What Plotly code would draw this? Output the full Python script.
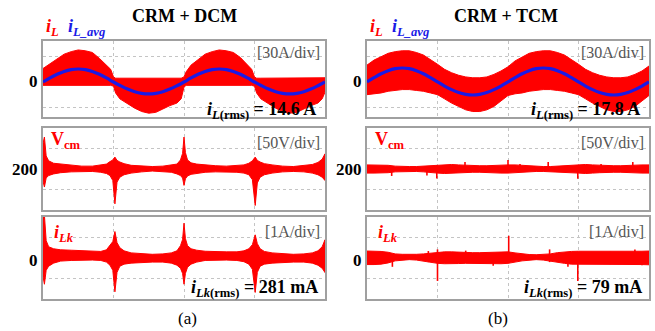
import plotly.graph_objects as go

W, H = 655, 331
RED = "#ff0000"
BLUE = "#1a1ae6"
SERIF = "Liberation Serif, Times New Roman, serif"

# ---------------- (a) CRM + DCM ----------------
# inductor current envelope [A], time in ms (10 ms/div)
t_il_a = [0, 1, 2, 3, 4, 5, 6, 7, 8, 9, 9.6, 10.0, 10.3, 10.9, 12, 13, 14, 15, 16, 17, 18, 19,
          19.6, 20.0, 20.3, 21, 22, 23, 24, 25, 26, 27, 28, 29, 29.6, 30.0, 30.3, 30.9,
          32, 33, 34, 35, 36, 37, 38, 39, 39.6, 40]
il_a_upper = [16, 22, 28, 33, 36, 38, 37, 35, 28, 20, 15, 6, 4.5, 4.5, 4.5, 4.5, 4.5, 4.5, 4.5, 4.5, 4.5, 4.5,
              4.5, 6, 12, 20, 27, 33, 36, 38, 37, 35, 29, 21, 15, 6, 4.5, 4.5,
              4.5, 4.5, 4.5, 4.5, 4.5, 4.5, 4.5, 4.5, 4.5, 5]
il_a_lower = [-4, -4, -4, -4, -4, -4, -4, -4, -4, -4, -4, -5, -13, -20, -26, -31, -35, -37, -36, -32, -28, -25,
              -20, -6, -4, -4, -4, -4, -4, -4, -4, -4, -4, -4, -4, -5, -13, -20,
              -26, -31, -35, -37, -36, -32, -28, -25, -20, -12]

t_avg = list(range(41))
il_a_avg = [0, 4.8, 9.1, 12.5, 14.7, 15.4, 14.7, 12.5, 9.1, 4.8, 0, -4.4, -8.4, -11.5, -13.5, -14.2,
            -13.5, -11.5, -8.4, -4.4, 0, 4.8, 9.1, 12.5, 14.7, 15.4, 14.7, 12.5, 9.1, 4.8, 0, -4.4,
            -8.4, -11.5, -13.5, -14.2, -13.5, -11.5, -8.4, -4.4, 0]

# common-mode voltage envelope [V]
t_cm_a = [0, 0.2, 0.45, 0.8, 1.5, 2.5, 4, 5.5, 7, 8.2, 9.0, 9.5, 9.9, 10.2, 10.5, 10.9, 11.5, 12.5, 14,
          15.5, 17, 18.2, 19.0, 19.5, 19.8, 20.0, 20.2, 20.5, 21.0, 21.8, 23, 24.5, 26, 27.5, 28.5,
          29.2, 29.7, 30.1, 30.4, 30.8, 31.4, 32.5, 34, 35.5, 37, 38.2, 39.0, 39.6, 40]
vcm_a_upper = [262, 278, 232, 220, 214, 212, 210, 207, 207, 209, 212, 218, 222, 229, 221, 217, 213, 209, 207,
               206, 207, 209, 212, 222, 238, 278, 240, 222, 215, 212, 210, 208, 207, 208, 210,
               214, 220, 229, 221, 217, 213, 210, 207, 206, 208, 211, 216, 224, 237]
vcm_a_lower = [170, 156, 178, 184, 188, 191, 193, 194, 194, 192, 189, 184, 172, 115, 168, 180, 186, 190, 193,
               195, 194, 192, 188, 184, 178, 160, 176, 183, 187, 190, 192, 193, 193, 192, 190,
               186, 174, 111, 166, 180, 186, 190, 193, 194, 193, 190, 186, 180, 172]

# leakage current envelope [A] (same time grid)
ilk_a_upper = [2.1, 2.1, 0.85, 0.55, 0.45, 0.4, 0.38, 0.36, 0.33, 0.32, 0.4, 0.6, 0.8, 1.29, 0.75, 0.5, 0.35, 0.25, 0.2,
               0.18, 0.2, 0.25, 0.35, 0.6, 0.9, 1.70, 0.95, 0.6, 0.45, 0.38, 0.33, 0.3, 0.3, 0.3, 0.35,
               0.45, 0.65, 1.13, 0.7, 0.45, 0.32, 0.25, 0.2, 0.18, 0.2, 0.25, 0.35, 0.55, 0.89]
ilk_a_lower = [-0.9, -1.28, -0.6, -0.4, -0.25, -0.15, -0.12, -0.1, -0.1, -0.12, -0.2, -0.35, -0.6, -1.65, -0.7, -0.4,
               -0.3, -0.25, -0.22, -0.2, -0.2, -0.25, -0.35, -0.5, -0.75, -1.28, -0.75, -0.45, -0.3, -0.2,
               -0.12, -0.1, -0.1, -0.12, -0.18, -0.3, -0.55, -1.68, -0.7, -0.4, -0.3, -0.25, -0.22, -0.2,
               -0.2, -0.25, -0.35, -0.5, -0.71]

# ---------------- (b) CRM + TCM ----------------
t_b = list(range(41))
il_b_upper = [20, 26, 30, 34, 36, 37, 37, 35, 32, 27, 21, 15, 11, 8, 6, 5, 5, 6, 9, 13, 18,
              25, 30, 34, 36, 37, 37, 35, 32, 27, 21, 15, 11, 8, 6, 5, 5, 6, 9, 13, 19]
il_b_lower = [-15, -14, -13, -11, -10, -9, -9, -10, -11, -13, -15, -20, -25, -29, -33, -35, -35, -33, -29, -23, -16,
              -14, -13, -11, -10, -9, -9, -10, -11, -13, -15, -20, -25, -29, -33, -35, -35, -33, -29, -23, -16]
il_b_avg = [0, 5.1, 9.8, 13.4, 15.8, 16.6, 15.8, 13.4, 9.8, 5.1, 0, -4.8, -9.1, -12.5, -14.6, -15.4,
            -14.6, -12.5, -9.1, -4.8, 0, 5.1, 9.8, 13.4, 15.8, 16.6, 15.8, 13.4, 9.8, 5.1, 0, -4.8,
            -9.1, -12.5, -14.6, -15.4, -14.6, -12.5, -9.1, -4.8, 0]

vcm_b_upper = [210, 210, 210, 209, 207, 206, 206, 206, 207, 208, 210, 211, 211, 210, 209, 208, 208, 208, 209, 210,
               210, 210, 209, 207, 206, 206, 206, 207, 208, 209, 210, 211, 210, 209, 208, 208, 208, 209, 209,
               210, 210]
vcm_b_lower = [190, 190, 190, 191, 193, 194, 194, 194, 193, 192, 190, 189, 189, 190, 191, 192, 192, 192, 191, 190,
               190, 190, 191, 193, 194, 194, 194, 193, 192, 191, 190, 189, 190, 191, 192, 192, 192, 191, 191,
               190, 190]
vcm_b_spike_t = [3.5, 8.5, 9.9, 13.9, 20.0, 21.7, 25.7, 29.9, 33.2, 37.7]
vcm_b_spike_hi = [205, 206, 210, 217, 222, 212, 217, 206, 212, 217]
vcm_b_spike_lo = [183, 184, 177, 195, 195, 194, 195, 176, 194, 195]

ilk_b_upper = [0.34, 0.34, 0.32, 0.28, 0.2, 0.18, 0.17, 0.18, 0.2, 0.24, 0.28, 0.3, 0.3, 0.28, 0.27, 0.26, 0.26,
               0.27, 0.28, 0.3, 0.3, 0.25, 0.2, 0.17, 0.16, 0.17, 0.2, 0.26, 0.3, 0.32, 0.33, 0.33, 0.32, 0.31,
               0.3, 0.3, 0.3, 0.31, 0.32, 0.33, 0.34]
ilk_b_lower = [-0.32, -0.32, -0.3, -0.24, -0.14, -0.1, -0.08, -0.1, -0.14, -0.2, -0.26, -0.28, -0.28, -0.27,
               -0.26, -0.25, -0.25, -0.26, -0.27, -0.28, -0.26, -0.2, -0.14, -0.1, -0.08, -0.1, -0.14, -0.2,
               -0.26, -0.3, -0.32, -0.32, -0.31, -0.3, -0.3, -0.3, -0.3, -0.31, -0.32, -0.32, -0.33]
ilk_b_spike_t = [3.6, 8.7, 10.0, 14.0, 17.9, 20.1, 25.9, 28.5, 29.9, 34.5, 38.0, 39.0]
ilk_b_spike_hi = [0.2, 0.34, 0.42, 0.36, 0.2, 1.08, 0.42, 0.2, 0.3, 0.3, 0.42, 0.2]
ilk_b_spike_lo = [-0.43, -0.2, -1.12, -0.2, -0.38, -0.25, -0.2, -0.43, -1.12, -0.3, -0.2, -0.35]

rms_labels = ["14.6 A", "281 mA", "17.8 A", "79 mA"]

# ---------------- figure ----------------
fig = go.Figure()


def band(t, up, lo, xa, ya):
    fig.add_trace(go.Scatter(
        x=list(t) + list(t)[::-1], y=list(up) + list(lo)[::-1], xaxis=xa, yaxis=ya,
        mode="lines", fill="toself", fillcolor=RED, line=dict(color=RED, width=1),
        hoverinfo="skip", showlegend=False))


def spikes(ts, hi, lo, xa, ya):
    xs, ys = [], []
    for t, h, l in zip(ts, hi, lo):
        xs += [t, t, None]
        ys += [l, h, None]
    fig.add_trace(go.Scatter(x=xs, y=ys, xaxis=xa, yaxis=ya, mode="lines",
                             line=dict(color=RED, width=1.6), hoverinfo="skip", showlegend=False))


def avg_line(t, v, xa, ya):
    fig.add_trace(go.Scatter(x=t, y=v, xaxis=xa, yaxis=ya, mode="lines",
                             line=dict(color=BLUE, width=3.2, shape="spline"),
                             hoverinfo="skip", showlegend=False))


band(t_il_a, il_a_upper, il_a_lower, "x", "y")
avg_line(t_avg, il_a_avg, "x", "y")
band(t_cm_a, vcm_a_upper, vcm_a_lower, "x2", "y2")
band(t_cm_a, ilk_a_upper, ilk_a_lower, "x3", "y3")

band(t_b, il_b_upper, il_b_lower, "x4", "y4")
avg_line(t_b, il_b_avg, "x4", "y4")
band(t_b, vcm_b_upper, vcm_b_lower, "x5", "y5")
spikes(vcm_b_spike_t, vcm_b_spike_hi, vcm_b_spike_lo, "x5", "y5")
band(t_b, ilk_b_upper, ilk_b_lower, "x6", "y6")
spikes(ilk_b_spike_t, ilk_b_spike_hi, ilk_b_spike_lo, "x6", "y6")

# panel geometry (pixels)
cols = [(43, 325), (367, 649)]
rows = [(41, 117), (128, 210), (217, 299)]
yranges = [[-41.5, 48.6], [100, 300], [-2, 2]]
ygrid = [[-30, 0, 30], [150, 200, 250], [-1, 0, 1]]

frame = dict(showline=True, mirror=True, linecolor="#a0a0a0", linewidth=1.6,
             showticklabels=False, ticks="", zeroline=False, showgrid=True,
             gridcolor="#c4c4c4", griddash="dot", gridwidth=1, fixedrange=True)

layout = dict(width=W, height=H, margin=dict(l=0, r=0, t=0, b=0),
              paper_bgcolor="white", plot_bgcolor="white", showlegend=False)
k = 0
for c, (x0, x1) in enumerate(cols):
    for r, (y0, y1) in enumerate(rows):
        k += 1
        xs = "" if k == 1 else str(k)
        layout["xaxis" + xs] = dict(frame, domain=[x0 / W, x1 / W], range=[0, 40],
                                    tickvals=[10, 20, 30], anchor="y" + xs)
        layout["yaxis" + xs] = dict(frame, domain=[1 - y1 / H, 1 - y0 / H], range=yranges[r],
                                    tickvals=ygrid[r], anchor="x" + xs)
fig.update_layout(**layout)

ann = []


def text(px, py, s, size, color="black", xanchor="center", yanchor="middle"):
    ann.append(dict(x=px / W, y=1 - py / H, xref="paper", yref="paper", text=s, showarrow=False,
                    xanchor=xanchor, yanchor=yanchor,
                    font=dict(family=SERIF, size=size, color=color)))


# titles and sub-figure captions
text(184, 16, "<b>CRM + DCM</b>", 18)
text(506, 16, "<b>CRM + TCM</b>", 18)
text(187, 318, "(a)", 17)
text(498, 318, "(b)", 17)

for x0, lab_x, tag in [(43, 40, 0), (367, 364, 1)]:
    x1 = x0 + 282
    # legends of the current traces
    text(x0 + 1, 28, "<b><i>i<sub>L</sub></i></b>", 18, RED, xanchor="left")
    text(x0 + 23, 28, "<b><i>i<sub>L_avg</sub></i></b>", 18, BLUE, xanchor="left")
    text(x0 + 6, 140, "<b>V<sub>cm</sub></b>", 18, RED, xanchor="left")
    text(x0 + 9, 233, "<b><i>i<sub>Lk</sub></i></b>", 18, RED, xanchor="left")
    # scale tags
    text(x1 - 3, 52, "[30A/div]", 16, "#555555", xanchor="right")
    text(x1 - 3, 142, "[50V/div]", 16, "#555555", xanchor="right")
    text(x1 - 3, 231, "[1A/div]", 16, "#555555", xanchor="right")
    # reference levels
    text(lab_x, 82, "<b>0</b>", 17, xanchor="right")
    text(lab_x, 169, "<b>200</b>", 17, xanchor="right")
    text(lab_x, 260, "<b>0</b>", 17, xanchor="right")
    # rms values
    text(x1 - 7, 110, "<b><i>i</i><sub><i>L</i>(rms)</sub> = " + rms_labels[2 * tag] + "</b>", 18,
         xanchor="right")
    text(x1 - 5, 288, "<b><i>i</i><sub><i>Lk</i>(rms)</sub> = " + rms_labels[2 * tag + 1] + "</b>", 18,
         xanchor="right")

fig.update_layout(annotations=ann)
fig.write_html("out.html")
